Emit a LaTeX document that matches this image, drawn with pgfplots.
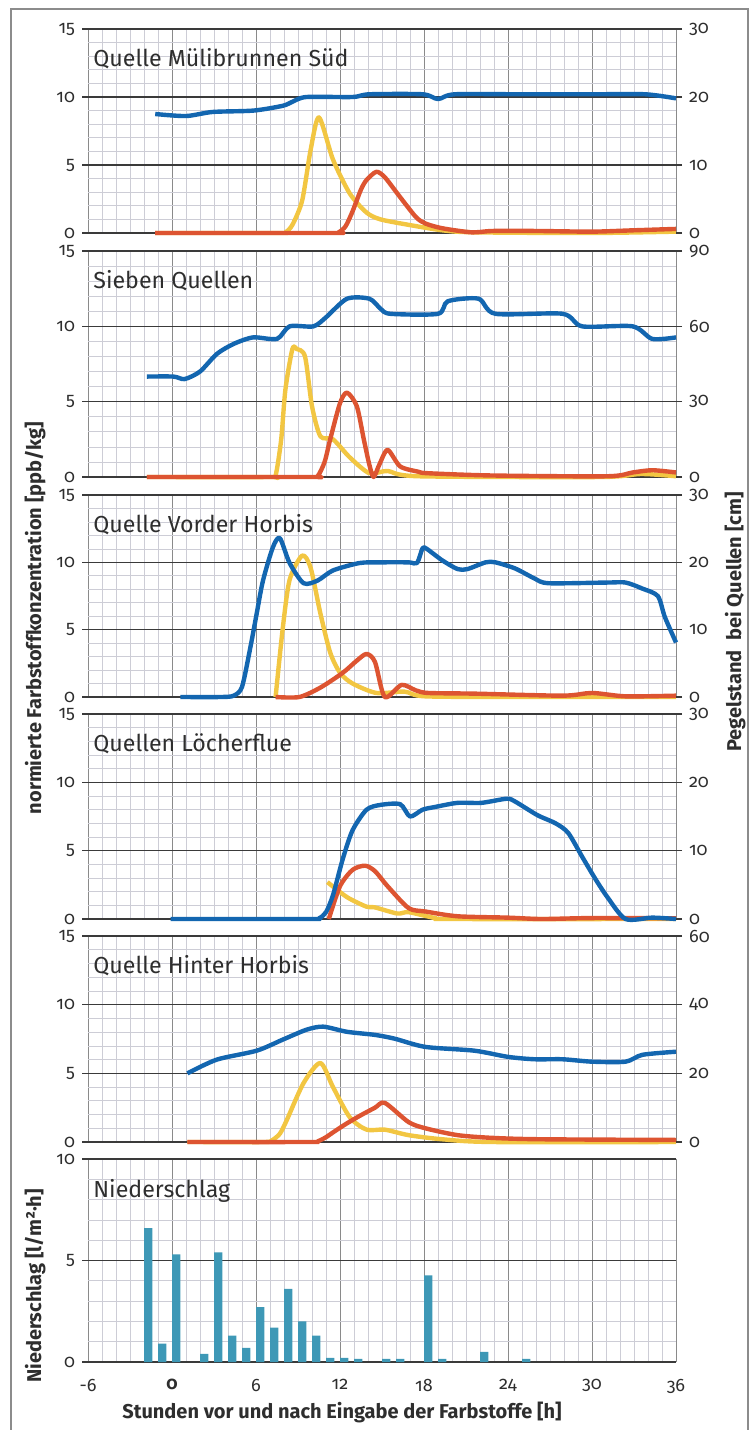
\documentclass[border=0pt]{standalone}
\usepackage{fontspec}
\setmainfont{Fira Sans}[Numbers=OldStyle]
\usepackage{pgfplots}
\pgfplotsset{compat=1.18}
\definecolor{cblue}{HTML}{1366B0}
\definecolor{cyellow}{HTML}{F2C642}
\definecolor{cred}{HTML}{DD5431}
\definecolor{cbar}{HTML}{3E98B6}
\definecolor{gmajy}{HTML}{3A3A3A}
\definecolor{gmajx}{HTML}{8A8A8A}
\definecolor{gminor}{HTML}{CDCDD6}
\definecolor{txt}{HTML}{2E2E2E}
\definecolor{framegray}{HTML}{8C8C8C}
\newcommand{\ticksize}{\fontsize{9}{10}\selectfont}
\tikzset{ptitle/.style={anchor=north west, inner sep=0pt, font=\fontsize{11.6}{14}\selectfont, text=txt},
  curve/.style={line width=2.2pt, smooth, tension=0.45, line join=round}}
\pgfplotsset{
  panel/.style={
    scale only axis, width=294pt,
    xmin=-6, xmax=36, ymin=0,
    xtick={-6,0,...,36}, minor x tick num=5,
    minor y tick num=4,
    grid=both,
    major x grid style={draw=gmajx, line width=0.5pt},
    major y grid style={draw=gmajy, line width=0.75pt},
    minor grid style={draw=gminor, line width=0.35pt},
    axis line style={draw=none},
    xticklabels={},
    xtick style={draw=none},
    ytick pos=left,
    ytick style={draw=gmajy, line width=0.75pt},
    tick align=outside, major tick length=3pt, minor tick length=0pt,
    yticklabel style={font=\ticksize, text=txt},
    clip=false,
  },
  rightax/.style={
    scale only axis, width=294pt,
    xmin=-6, xmax=36, ymin=0,
    axis x line=none,
    axis y line*=right, axis line style={draw=none},
    ytick pos=right, yticklabel pos=right,
    tick align=outside, major tick length=3pt, minor tick length=0pt,
    ytick style={draw=gmajy, line width=0.75pt},
    yticklabel style={font=\ticksize, text=txt},
    clip=false,
  },
}
\begin{document}
\begin{tikzpicture}
\path[use as bounding box] (0pt,0pt) rectangle (377.5pt,-715pt);
\draw[framegray, line width=0.7pt] (5.5pt,-4.5pt) rectangle (374pt,-718pt);

% ---------- Panel 1 ----------
\begin{axis}[panel, at={(44pt,-116.5pt)}, anchor=south west, height=102pt,
  ymax=15, ytick={0,5,10,15}, yticklabels={0,5,10,15}]
\addplot[curve, cyellow] coordinates {(-1.2,0) (7.6,0) (8.1,0.05) (8.6,0.6) (9.3,2.4) (9.9,6.1) (10.5,8.5) (11.5,5.4) (12.7,2.9) (13.9,1.5) (14.9,1.0) (16.9,0.6) (19.3,0.2) (21.6,0.05) (30,0) (36,0.1)};
\addplot[curve, cred] coordinates {(-1.2,0) (11.4,0) (11.9,0.05) (12.4,0.5) (12.9,1.6) (13.5,3.2) (13.9,3.9) (14.6,4.5) (15.2,4.1) (16.1,2.9) (17.4,1.2) (18.1,0.7) (19.3,0.35) (21.4,0.05) (22.9,0.15) (26,0.15) (30,0.1) (33,0.2) (36,0.3)};
\node[ptitle] at (rel axis cs:0,1) [xshift=2.5pt, yshift=-9.5pt] {Quelle Mülibrunnen Süd};
\end{axis}
\begin{axis}[rightax, at={(44pt,-116.5pt)}, anchor=south west, height=102pt,
  ymax=30, ytick={0,10,20,30}, yticklabels={0,10,20,30}]
\addplot[curve, cblue] coordinates {(-1.2,17.5) (1.0,17.2) (2.9,17.8) (5.8,18.0) (7.9,18.7) (8.6,19.3) (9.6,20.0) (12.9,20.0) (14.1,20.4) (17.9,20.4) (19.0,19.7) (20.2,20.4) (25,20.4) (30,20.4) (33.8,20.4) (36,19.8)};
\end{axis}

% ---------- Panel 2 ----------
\begin{axis}[panel, at={(44pt,-238.5pt)}, anchor=south west, height=113pt,
  ymax=15, ytick={0,5,10,15}, yticklabels={0,5,10,15}]
\addplot[curve, cyellow] coordinates {(-1.8,0) (7.0,0) (7.4,0.1) (7.8,2.5) (8.1,5.8) (8.6,8.5) (8.9,8.5) (9.5,8.0) (10.0,4.7) (10.6,2.7) (11.5,2.5) (12.7,1.3) (14.1,0.25) (15.4,0.4) (17.6,0.05) (30.6,0) (33.5,0.2) (36,0.05)};
\addplot[curve, cred] coordinates {(-1.8,0) (9.9,0) (10.4,0.05) (10.9,1.0) (11.3,2.5) (12,4.9) (12.5,5.6) (13.2,4.7) (13.7,2.5) (14.1,0.8) (14.4,0) (14.8,0.8) (15.4,1.8) (16.3,0.7) (17.6,0.35) (18.3,0.25) (22.9,0.1) (31.1,0.05) (32.9,0.3) (34.3,0.45) (36,0.3)};
\node[ptitle] at (rel axis cs:0,1) [xshift=2.5pt, yshift=-9.5pt] {Sieben Quellen};
\end{axis}
\begin{axis}[rightax, at={(44pt,-238.5pt)}, anchor=south west, height=113pt,
  ymax=90, ytick={0,30,60,90}, yticklabels={0,30,60,90}]
\addplot[curve, cblue] coordinates {(-1.8,40) (0.1,40) (0.9,39) (2,42) (3.2,49) (4.4,53) (5.8,55.6) (7.5,55) (8.4,60) (10.1,60) (11,63.6) (12.5,71) (14.1,71) (14.9,67) (15.6,65) (19,65) (19.7,70) (21.9,71) (23.1,65) (27.9,65) (29.3,60) (32.9,60) (34.3,55) (36,55.6)};
\end{axis}

% ---------- Panel 3 ----------
\begin{axis}[panel, at={(44pt,-348.5pt)}, anchor=south west, height=101pt,
  ymax=15, ytick={0,5,10,15}, yticklabels={0,5,10,15}]
\addplot[curve, cyellow] coordinates {(7.4,0) (7.9,5) (8.4,8.7) (9.3,10.5) (9.9,9.6) (10.6,6.2) (11.3,3.3) (12,1.8) (12.9,1.0) (14.6,0.3) (16.6,0.4) (18.1,0.05) (25,0) (36,0)};
\addplot[curve, cred] coordinates {(7.4,0) (9.1,0) (10.6,0.7) (12.2,1.8) (13.2,2.7) (13.9,3.2) (14.5,2.6) (15.2,0) (16.4,0.9) (17.4,0.5) (18.3,0.3) (21.6,0.25) (27.9,0.1) (30,0.3) (32.4,0.05) (36,0.1)};
\node[ptitle] at (rel axis cs:0,1) [xshift=2.5pt, yshift=-9.5pt] {Quelle Vorder Horbis};
\end{axis}
\begin{axis}[rightax, at={(44pt,-348.5pt)}, anchor=south west, height=101pt,
  ymax=30, ytick={0,10,20,30}, yticklabels={0,10,20,30}]
\addplot[curve, cblue] coordinates {(0.6,0) (3.5,0) (4.4,0.2) (5,1.5) (5.6,7.4) (6.05,12.4) (6.5,17.3) (7.2,22.2) (7.7,23.6) (8.4,19.9) (9.4,16.9) (10.4,17.3) (11.5,18.8) (13.4,19.9) (14.9,20) (16.9,20) (17.5,19.9) (17.9,22.1) (18.2,22) (19.3,20.3) (20.4,19) (21.1,19) (22.4,20) (23.1,20) (24.5,19.1) (25.9,17.6) (26.9,16.9) (31.1,17) (32.4,17) (33.6,16.1) (34.7,15) (35.2,11.9) (36,8.1)};
\end{axis}

% ---------- Panel 4 ----------
\begin{axis}[panel, at={(44pt,-459.5pt)}, anchor=south west, height=102.5pt,
  ymax=15, ytick={0,5,10,15}, yticklabels={0,5,10,15}]
\addplot[curve, cyellow] coordinates {(11.1,2.7) (12.5,1.6) (13.9,0.9) (14.5,0.85) (16.1,0.4) (16.9,0.5) (18.8,0.07) (20,0) (36,0)};
\addplot[curve, cred] coordinates {(11.2,0) (12,2.4) (12.9,3.6) (13.8,3.9) (14.5,3.5) (15.4,2.4) (16.9,0.8) (18.1,0.55) (20.4,0.2) (24,0.1) (26.4,0) (30,0.07) (36,0.05)};
\node[ptitle] at (rel axis cs:0,1) [xshift=2.5pt, yshift=-9.5pt] {Quellen Löcherflue};
\end{axis}
\begin{axis}[rightax, at={(44pt,-459.5pt)}, anchor=south west, height=102.5pt,
  ymax=30, ytick={0,10,20,30}, yticklabels={0,10,20,30}]
\addplot[curve, cblue] coordinates {(-0.1,0) (9.8,0) (10.5,0.1) (11.0,1.0) (11.5,3.5) (12.2,8.8) (12.9,13) (13.9,16) (14.9,16.7) (16.3,16.8) (17.0,15) (17.9,16) (18.8,16.4) (20.4,17) (22.1,17) (23.9,17.6) (24.5,17.2) (26.1,15.2) (27.4,14) (28.3,12.6) (29.3,9.1) (30.2,6) (31.1,3.2) (32.4,0) (34.3,0.2) (36,0)};
\end{axis}

% ---------- Panel 5 ----------
\begin{axis}[panel, at={(44pt,-571pt)}, anchor=south west, height=103pt,
  ymax=15, ytick={0,5,10,15}, yticklabels={0,5,10,15}]
\addplot[curve, cyellow] coordinates {(1.1,0) (6.5,0) (7.1,0.1) (7.7,0.6) (8.2,1.6) (9.4,4.3) (10.6,5.75) (11.5,4.0) (12.7,1.8) (13.9,0.9) (15.2,0.9) (16.9,0.5) (19.3,0.2) (22.9,0) (36,0)};
\addplot[curve, cred] coordinates {(1.1,0) (9.8,0) (10.4,0.05) (11.0,0.35) (11.5,0.7) (12.4,1.3) (13.4,1.9) (14.5,2.5) (15.2,2.85) (16.9,1.45) (18.1,1.0) (20.4,0.5) (22.9,0.3) (26.4,0.2) (36,0.15)};
\node[ptitle] at (rel axis cs:0,1) [xshift=2.5pt, yshift=-9.5pt] {Quelle Hinter Horbis};
\end{axis}
\begin{axis}[rightax, at={(44pt,-571pt)}, anchor=south west, height=103pt,
  ymax=60, ytick={0,20,40,60}, yticklabels={0,20,40,60}]
\addplot[curve, cblue] coordinates {(1.1,20) (3.2,24) (6.05,26.6) (7.9,29.8) (9.6,32.7) (10.8,33.6) (12.5,32.1) (14.5,31.2) (15.9,30.1) (18.1,27.7) (21.6,26.6) (24,24.8) (25.9,24.1) (27.9,24.1) (30,23.4) (32.4,23.4) (33.6,25.4) (36,26.3)};
\end{axis}

% ---------- Panel 6 ----------
\begin{axis}[panel, at={(44pt,-681pt)}, anchor=south west, height=101.5pt,
  ymax=10, ytick={0,5,10}, yticklabels={0,5,10},
  xticklabels={-6,\textbf{0},6,12,18,24,30,36},
  xticklabel style={font=\ticksize, text=txt, yshift=-2pt}]
\addplot[ybar, bar width=0.6, fill=cbar, draw=none] coordinates {(-1.7,6.6) (-0.7,0.9) (0.3,5.3) (2.3,0.4) (3.3,5.4) (4.3,1.3) (5.3,0.7) (6.3,2.7) (7.3,1.7) (8.3,3.6) (9.3,2.0) (10.3,1.3) (11.3,0.2) (12.3,0.2) (13.3,0.15) (15.3,0.15) (16.3,0.15) (18.3,4.27) (19.3,0.15) (22.3,0.5) (25.3,0.15)};
\node[ptitle] at (rel axis cs:0,1) [xshift=2.5pt, yshift=-10pt] {Niederschlag};
\end{axis}

% ---------- axis labels ----------
\node[rotate=90, font=\bfseries\fontsize{10}{12}\selectfont, text=txt] at (17.5pt,-309pt) {normierte Farbstoffkonzentration [ppb/kg]};
\node[rotate=90, font=\bfseries\fontsize{10}{12}\selectfont, text=txt] at (367.5pt,-311pt) {Pegelstand\ \ bei Quellen [cm]};
\node[rotate=90, font=\bfseries\fontsize{10}{12}\selectfont, text=txt] at (17.5pt,-643pt) {Niederschlag [l/m²·h]};
\node[font=\bfseries\fontsize{10}{12}\selectfont, text=txt] at (171pt,-706pt) {Stunden vor und nach Eingabe der Farbstoffe [h]};
\end{tikzpicture}
\end{document}
